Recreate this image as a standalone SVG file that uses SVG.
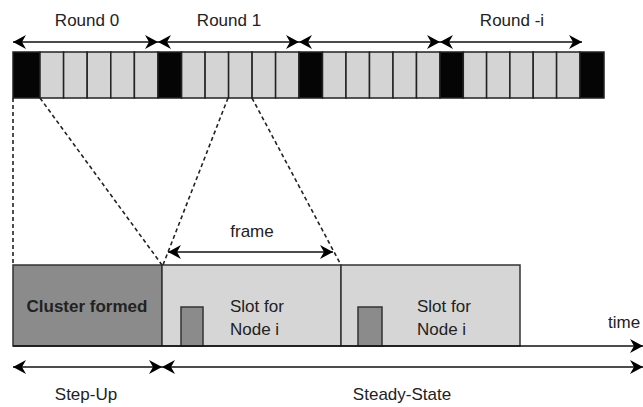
<svg xmlns="http://www.w3.org/2000/svg" width="643" height="407" viewBox="0 0 643 407">
<style>
  .lbl { font-family: "Liberation Sans", Arial, sans-serif; font-size: 17px; fill: #222; }
  .bold { font-weight: bold; }
  .blk { fill: #050505; stroke: #222; stroke-width: 1.5; }
  .lt { fill: #d4d4d4; stroke: #222; stroke-width: 1.5; }
  .arr { stroke: #111; stroke-width: 1.6; fill: none; marker-start: url(#ah); marker-end: url(#ah); }
  .arr1 { stroke: #111; stroke-width: 1.6; fill: none; marker-end: url(#ah); }
  .dash { stroke: #222; stroke-width: 1.6; fill: none; stroke-dasharray: 4 3; }
  .box { stroke: #333; stroke-width: 1.5; }
</style>
<defs>
  <marker id="ah" viewBox="0 0 13 14" refX="13" refY="7" markerWidth="13" markerHeight="14" orient="auto-start-reverse" markerUnits="userSpaceOnUse">
    <path d="M0,0 L13,7 L0,14 L4,7 z" fill="#000"/>
  </marker>
</defs>
<rect width="643" height="407" fill="#fff"/>

<g id="round-labels">
  <text class="lbl" x="87" y="26" text-anchor="middle">Round 0</text>
  <text class="lbl" x="229" y="26" text-anchor="middle">Round 1</text>
  <text class="lbl" x="512" y="26" text-anchor="middle">Round -i</text>
</g>

<g id="top-bar">
  <rect class="blk" x="13" y="52" width="27" height="46"/>
  <rect class="lt" x="40" y="52" width="23.6" height="46"/>
  <rect class="lt" x="63.6" y="52" width="23.6" height="46"/>
  <rect class="lt" x="87.2" y="52" width="23.6" height="46"/>
  <rect class="lt" x="110.8" y="52" width="23.6" height="46"/>
  <rect class="lt" x="134.4" y="52" width="23.6" height="46"/>
  <rect class="blk" x="158" y="52" width="23.6" height="46"/>
  <rect class="lt" x="181.6" y="52" width="23.5" height="46"/>
  <rect class="lt" x="205.1" y="52" width="23.5" height="46"/>
  <rect class="lt" x="228.6" y="52" width="23.5" height="46"/>
  <rect class="lt" x="252.1" y="52" width="23.5" height="46"/>
  <rect class="lt" x="275.6" y="52" width="23.4" height="46"/>
  <rect class="blk" x="299" y="52" width="23.5" height="46"/>
  <rect class="lt" x="322.5" y="52" width="23.5" height="46"/>
  <rect class="lt" x="346" y="52" width="23.5" height="46"/>
  <rect class="lt" x="369.5" y="52" width="23.5" height="46"/>
  <rect class="lt" x="393" y="52" width="23.5" height="46"/>
  <rect class="lt" x="416.5" y="52" width="23.5" height="46"/>
  <rect class="blk" x="440" y="52" width="23.3" height="46"/>
  <rect class="lt" x="463.3" y="52" width="23.3" height="46"/>
  <rect class="lt" x="486.6" y="52" width="23.3" height="46"/>
  <rect class="lt" x="509.9" y="52" width="23.3" height="46"/>
  <rect class="lt" x="533.2" y="52" width="23.4" height="46"/>
  <rect class="lt" x="556.6" y="52" width="23.4" height="46"/>
  <rect class="blk" x="580" y="52" width="24" height="46"/>
</g>

<g id="cluster-formed">
  <rect class="box" x="13" y="265" width="149" height="81" fill="#8b8b8b"/>
  <text class="lbl bold" x="87" y="312" text-anchor="middle">Cluster formed</text>
</g>

<g id="slot-1">
  <rect class="box" x="162" y="265" width="179" height="81" fill="#d6d6d6"/>
  <rect class="box" x="181" y="307" width="22" height="39" fill="#8b8b8b"/>
  <text class="lbl" x="230" y="312">Slot for</text>
  <text class="lbl" x="230" y="335">Node i</text>
</g>

<g id="slot-2">
  <rect class="box" x="341" y="265" width="179" height="81" fill="#d6d6d6"/>
  <rect class="box" x="358" y="307" width="24" height="39" fill="#8b8b8b"/>
  <text class="lbl" x="417" y="312">Slot for</text>
  <text class="lbl" x="417" y="335">Node i</text>
</g>

<g id="labels">
  <text class="lbl" x="252" y="237" text-anchor="middle">frame</text>
  <text class="lbl" x="608" y="328">time</text>
  <text class="lbl" x="86" y="400" text-anchor="middle">Step-Up</text>
  <text class="lbl" x="402" y="400" text-anchor="middle">Steady-State</text>
</g>

<g id="connectors">
  <line class="arr" x1="13" y1="42" x2="158" y2="42"/>
  <line class="arr" x1="158" y1="42" x2="299" y2="42"/>
  <line class="arr" x1="299" y1="42" x2="440" y2="42"/>
  <line class="arr" x1="440" y1="42" x2="582" y2="42"/>
  <line class="dash" x1="13" y1="98" x2="13" y2="265"/>
  <line class="dash" x1="40" y1="98" x2="162" y2="265"/>
  <line class="dash" x1="228" y1="98" x2="163" y2="265"/>
  <line class="dash" x1="252" y1="98" x2="341" y2="265"/>
  <line class="arr" x1="168" y1="252" x2="333" y2="252"/>
  <line class="arr1" x1="13" y1="346" x2="643" y2="346"/>
  <line class="arr" x1="13" y1="367" x2="162" y2="367"/>
  <line class="arr" x1="162" y1="367" x2="643" y2="367"/>
</g>
</svg>
